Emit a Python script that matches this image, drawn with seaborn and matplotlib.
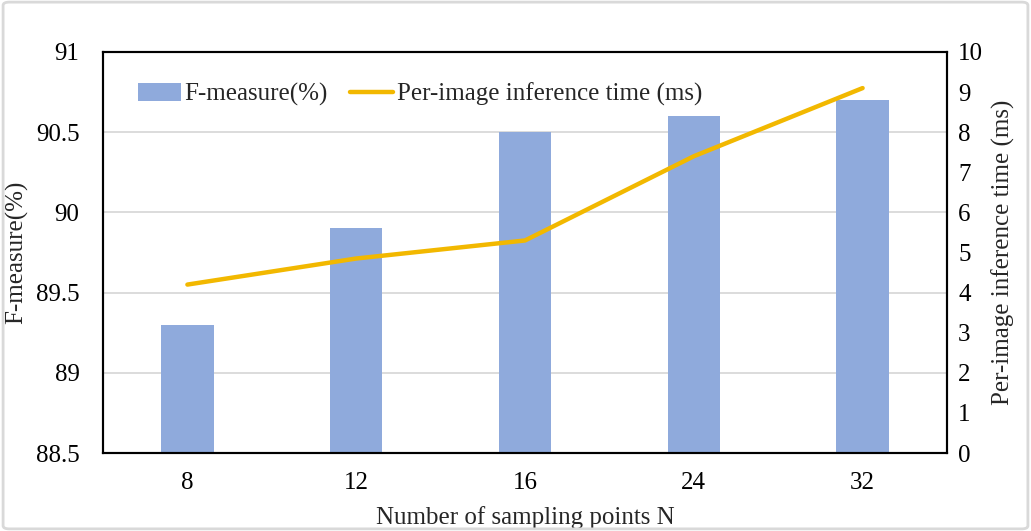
import matplotlib
matplotlib.use("Agg")
import matplotlib.pyplot as plt
import seaborn as sns
import numpy as np
import pandas as pd
from matplotlib.patches import FancyBboxPatch

categories = ["8", "12", "16", "24", "32"]
f_measure = [89.3, 89.9, 90.5, 90.6, 90.7]
inference_ms = [4.2, 4.85, 5.3, 7.4, 9.1]
left_ticks = [88.5, 89, 89.5, 90, 90.5, 91]
left_tick_labels = ["88.5", "89", "89.5", "90", "90.5", "91"]
right_ticks = list(range(0, 11))

sns.set_theme(style="white")
plt.rcParams['font.family'] = ['Liberation Serif', 'DejaVu Serif']

FS = 18
fig = plt.figure(figsize=(10.31, 5.31), dpi=100)
ax = fig.add_axes([103/1031, 1 - 453/531, (947-103)/1031, (453-52)/531])

df = pd.DataFrame({"N": categories, "F": f_measure, "T": inference_ms})
df["pos"] = np.arange(len(categories))

sns.barplot(data=df, x="N", y="F", ax=ax, color="#8FAADC", saturation=1,
            width=0.31, label="F-measure(%)", zorder=2, linewidth=0)
ax.set_ylim(88.5, 91)
ax.set_yticks(left_ticks)
ax.set_yticklabels(left_tick_labels)
ax.grid(axis="y", color="#D9D9D9", linewidth=1.3, zorder=0)
ax.set_axisbelow(True)
ax.set_xlim(-0.5, len(categories) - 0.5)
ax.tick_params(axis="both", length=0, labelsize=FS, colors="black")
ax.tick_params(axis="y", pad=17)
ax.tick_params(axis="x", pad=14)
ax.set_xlabel("Number of sampling points N", fontsize=FS, labelpad=8)
ax.set_ylabel("F-measure(%)", fontsize=FS, labelpad=5)

ax2 = ax.twinx()
sns.lineplot(data=df, x="pos", y="T", ax=ax2, color="#F2B800", linewidth=3.2,
             label="Per-image inference time (ms)", zorder=3)
ax2.set_ylim(0, 10)
ax2.set_yticks(right_ticks)
ax2.tick_params(axis="y", length=0, labelsize=FS, pad=8, colors="black")
ax2.set_ylabel("Per-image inference time (ms)", fontsize=FS, labelpad=6)
ax2.set_xlim(-0.5, len(categories) - 0.5)

for a in (ax, ax2):
    for s in a.spines.values():
        s.set_color("black")
        s.set_linewidth(1.5)

h1, l1 = ax.get_legend_handles_labels()
h2, l2 = ax2.get_legend_handles_labels()
if ax.get_legend():
    ax.get_legend().remove()
if ax2.get_legend():
    ax2.get_legend().remove()
ax2.legend(h1 + h2, l1 + l2, loc="upper left", bbox_to_anchor=(0.015, 0.98),
           ncol=2, frameon=False, fontsize=FS, handlelength=1.7,
           handletextpad=0.15, columnspacing=0.9)

border = FancyBboxPatch((0.003, 0.004), 0.994, 0.992, boxstyle="round,pad=0,rounding_size=0.006",
                        transform=fig.transFigure, facecolor="none", edgecolor="#D9D9D9",
                        linewidth=2, zorder=10)
fig.patches.append(border)

fig.savefig("out.png", dpi=100)
